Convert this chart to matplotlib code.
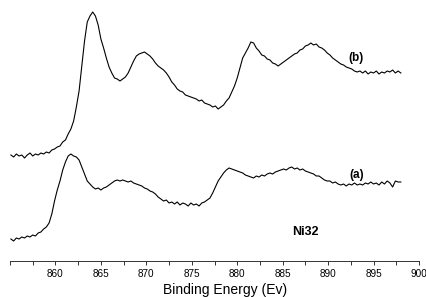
import numpy as np
import matplotlib
matplotlib.use("Agg")
import matplotlib.pyplot as plt
from matplotlib.ticker import MultipleLocator

plt.rcParams['font.family'] = ['Liberation Sans', 'DejaVu Sans']

# binding energy grid (eV), 0.3 eV steps
energy = np.linspace(855.1, 898.0, 144)

# spectrum (b), offset upper trace
spec_b = [
    106, 104, 107, 105, 106, 103, 106, 108, 105, 107, 106, 108,
    107, 109, 108, 111, 112, 114, 115, 119, 121, 127, 132, 140,
    154, 170, 195, 220, 239, 245, 249, 245, 236, 222, 213, 203,
    194, 188, 183, 182, 180, 182, 184, 188, 194, 200, 205, 207,
    208, 209, 207, 205, 202, 198, 195, 193, 191, 188, 184, 179,
    176, 172, 170, 169, 166, 165, 164, 163, 162, 160, 161, 158,
    157, 156, 154, 155, 152, 154, 156, 160, 163, 169, 175, 183,
    193, 203, 208, 213, 219, 218, 213, 210, 206, 205, 202, 201,
    198, 197, 195, 197, 199, 201, 203, 205, 207, 208, 211, 212,
    215, 216, 218, 216, 217, 214, 213, 211, 208, 206, 203, 201,
    199, 197, 196, 194, 193, 192, 190, 189, 190, 188, 190, 187,
    189, 188, 190, 187, 189, 188, 190, 189, 191, 188, 190, 188,
]

# spectrum (a), lower trace
spec_a = [
    22, 20, 23, 22, 24, 23, 25, 24, 26, 25, 28, 29,
    32, 34, 38, 47, 60, 71, 80, 91, 99, 105, 107, 105,
    104, 101, 94, 87, 80, 77, 74, 72, 73, 71, 73, 74,
    76, 78, 80, 81, 80, 81, 80, 79, 80, 78, 77, 76,
    75, 73, 72, 70, 69, 67, 64, 62, 60, 61, 58, 59,
    57, 59, 56, 58, 57, 55, 58, 56, 57, 55, 58, 59,
    61, 63, 68, 74, 80, 84, 88, 91, 93, 92, 91, 90,
    89, 88, 86, 85, 84, 83, 85, 84, 86, 85, 87, 88,
    87, 89, 90, 91, 92, 91, 93, 94, 92, 93, 91, 92,
    90, 89, 88, 87, 85, 85, 83, 81, 80, 80, 78, 79,
    77, 76, 77, 75, 77, 76, 78, 76, 77, 76, 78, 77,
    79, 77, 78, 76, 79, 77, 80, 78, 74, 80, 79, 79,
]

fig = plt.figure(figsize=(4.27, 2.97), dpi=100)
ax = fig.add_axes([10 / 427, 36 / 297, 409 / 427, 261 / 297])

ax.plot(energy, spec_b, color='black', lw=0.8)
ax.plot(energy, spec_a, color='black', lw=0.8)

ax.text(893.1, 203, '(b)', fontsize=8.5, fontweight='bold', ha='center', va='center')
ax.text(893.1, 86, '(a)', fontsize=8.5, fontweight='bold', ha='center', va='center')
ax.text(887.5, 29, 'Ni32', fontsize=9, fontweight='bold', ha='center', va='center')

ax.set_xlim(855, 900)
ax.set_ylim(0, 261)
for s in ['left', 'top', 'right']:
    ax.spines[s].set_visible(False)
ax.spines['bottom'].set_linewidth(0.7)
ax.spines['bottom'].set_color('#333333')
ax.set_yticks([])
ax.set_xticks([860, 865, 870, 875, 880, 885, 890, 895, 900])
ax.xaxis.set_minor_locator(MultipleLocator(2.5))
ax.tick_params(axis='x', which='both', direction='out', length=3, width=0.7,
               color='#333333', labelsize=7.2, pad=3)
ax.set_xlabel('Binding Energy (Ev)', fontsize=10)
ax.xaxis.set_label_coords(0.525, -0.085)

fig.savefig('out.png', dpi=100)
